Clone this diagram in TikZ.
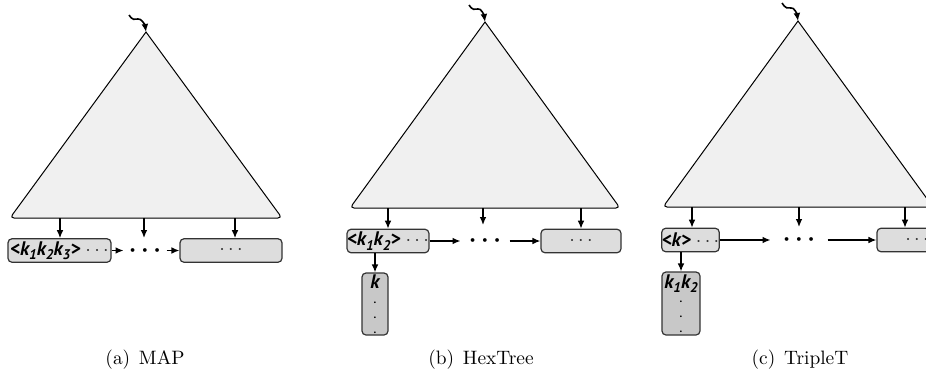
\documentclass[tikz,border=0pt]{standalone}
\usepackage{fontspec}
\newfontfamily\keyfont{PT Sans}
\usetikzlibrary{positioning,arrows.meta}
\tikzset{
  tree/.style={draw=black, fill=gray!12, line width=0.5pt},
  bucket/.style={draw=black!80, fill=gray!27, rounded corners=2pt, line width=0.6pt, inner sep=0pt, minimum height=11.75pt, font=\keyfont\fontsize{9.8}{9.8}\selectfont},
  column/.style={bucket, fill=gray!43, align=center, font=\keyfont\fontsize{9.8}{7.4}\selectfont},
  link/.style={-{Latex[length=4pt,width=3.4pt]}, line width=0.7pt},
  root arrow/.style={link, line width=0.8pt},
  middots/.style={inner xsep=2.5pt, inner ysep=0pt, font=\fontsize{11.5}{11.5}\selectfont\boldmath},
  caption/.style={font=\fontsize{9.7}{11}\selectfont},
}
\newcommand{\keytext}[1]{{\bfseries\itshape #1}}
\newcommand{\kk}[1]{k\raisebox{-2.2pt}{\fontsize{7}{7}\selectfont #1}}
\newcommand{\more}{\textcolor{black!80}{$\cdots$}}
\newcommand{\coldot}{{\fontsize{5.5}{7.4}\selectfont\bfseries .}}

\begin{document}
\begin{tikzpicture}[x=0.5pt,y=-0.5pt]
\useasboundingbox (0,0) rectangle (926,381);
\clip (0,0) rectangle (926,381);
%(a) MAP
\coordinate (apexA) at (146,32);
\coordinate (leftA) at (10,218);
\coordinate (rightA) at (282,218);
\coordinate (rootA) at (129,15);
\coordinate (bendA) at (138,19);
\draw[tree] (apexA) [rounded corners=2pt]-- (leftA) -- (rightA) [sharp corners]-- cycle;
\draw[root arrow] (rootA) .. controls +(3,5) and +(-3,1) .. (bendA) .. controls +(3,-1) and +(-1,-7) .. (apexA);
\node[bucket, minimum width=51.5pt] (headA) at (59.5,250.5) {\keytext{<\kk1\kk2\kk3>}~\more};
\node[bucket, minimum width=51pt] (restA) at (231,250.5) {\more};
\node[middots] (midA) at (145,250.5) {$\cdots$};
\coordinate (baseA1) at (60,218);
\coordinate (baseA2) at (144,218);
\coordinate (endA2) at (144,238);
\coordinate (baseA3) at (235,218);
\draw[link] (baseA1) -- (baseA1 |- headA.north);
\draw[link] (baseA2) -- (endA2);
\draw[link] (baseA3) -- (baseA3 |- restA.north);
\draw[link] (headA) -- (midA);
\draw[link] (midA) -- (restA);
\node[caption] (capA) at (145,360) {(a)\hspace{0.45em}MAP};
%(b) HexTree
\coordinate (apexB) at (485,22);
\coordinate (leftB) at (350,208);
\coordinate (rightB) at (620,208);
\coordinate (rootB) at (469,5);
\coordinate (bendB) at (478,9);
\draw[tree] (apexB) [rounded corners=2pt]-- (leftB) -- (rightB) [sharp corners]-- cycle;
\draw[root arrow] (rootB) .. controls +(3,5) and +(-3,1) .. (bendB) .. controls +(3,-1) and +(-1,-7) .. (apexB);
\node[bucket, minimum width=40pt] (headB) at (388,241) {\keytext{<\kk1\kk2>}~\more};
\node[bucket, minimum width=40pt] (restB) at (581,241) {\more};
\node[middots, inner xsep=4pt] (midB) at (485,241) {$\cdots$};
\node[column, minimum width=13pt, minimum height=31pt] (colB) at (375,304) {\keytext{k}\\ \coldot\\ \coldot\\ \coldot};
\coordinate (baseB1) at (388,208);
\coordinate (baseB2) at (483,208);
\coordinate (endB2) at (483,225);
\coordinate (baseB3) at (581,208);
\draw[link] (baseB1) -- (baseB1 |- headB.north);
\draw[link] (baseB2) -- (endB2);
\draw[link] (baseB3) -- (baseB3 |- restB.north);
\draw[link] (headB) -- (midB);
\draw[link] (midB) -- (restB);
\draw[link] (colB.north |- headB.south) -- (colB.north);
\node[caption] (capB) at (481,360) {(b)\hspace{0.45em}HexTree};
%(c) TripleT
\coordinate (apexC) at (798,21);
\coordinate (leftC) at (663,207);
\coordinate (rightC) at (933,207);
\coordinate (rootC) at (782,3);
\coordinate (bendC) at (791,8);
\draw[tree] (apexC) [rounded corners=2pt]-- (leftC) -- (rightC) [sharp corners]-- cycle;
\draw[root arrow] (rootC) .. controls +(3,5) and +(-3,1) .. (bendC) .. controls +(3,-1) and +(-1,-7) .. (apexC);
\node[bucket, minimum width=28.5pt] (headC) at (690.5,240) {\keytext{<k>}~\more};
\node[bucket, minimum width=40pt] (restC) at (917,240) {\more};
\node[middots, inner xsep=6pt] (midC) at (799,240) {$\cdots$};
\node[column, minimum width=19pt, minimum height=31.5pt] (colC) at (681,303.5) {\keytext{\kk1\kk2}\\ \coldot\\ \coldot\\ \coldot};
\coordinate (baseC1) at (692,207);
\coordinate (baseC2) at (799,207);
\coordinate (endC2) at (799,227);
\coordinate (baseC3) at (905,207);
\draw[link] (baseC1) -- (baseC1 |- headC.north);
\draw[link] (baseC2) -- (endC2);
\draw[link] (baseC3) -- (baseC3 |- restC.north);
\draw[link] (headC) -- (midC);
\draw[link] (midC) -- (restC);
\draw[link] (colC.north |- headC.south) -- (colC.north);
\node[caption] (capC) at (800,360) {(c)\hspace{0.45em}TripleT};
\end{tikzpicture}
\end{document}
